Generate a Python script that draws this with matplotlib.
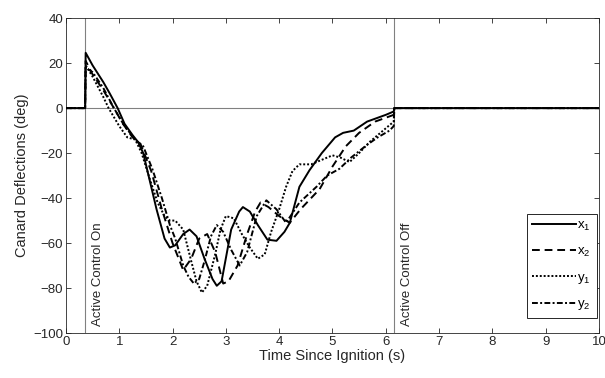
import matplotlib.pyplot as plt

plt.rcParams['font.family'] = ['Liberation Sans', 'DejaVu Sans']

# time (s) and canard deflections (deg)
t_x1 = [0, 0.36, 0.37, 0.5, 0.7, 0.82, 0.97, 1.1, 1.25, 1.35, 1.45, 1.55, 1.7, 1.85, 1.95, 2.05,
        2.2, 2.32, 2.45, 2.6, 2.75, 2.83, 2.92, 3.1, 3.25, 3.32, 3.45, 3.6, 3.78, 3.95, 4.1, 4.2,
        4.38, 4.57, 4.8, 5.05, 5.2, 5.4, 5.65, 6.0, 6.15, 6.16, 10]
x1 = [0, 0, 24.6, 19, 11.6, 6.6, 0, -7, -12, -15, -20, -30, -45, -58, -62, -61,
      -56, -54, -57, -67, -76, -79, -77, -54, -46, -44, -46, -52, -58.5, -59, -55, -51,
      -35, -27.6, -20, -13, -11, -10, -6, -3, -1.5, 0, 0]

t_x2 = [0, 0.36, 0.37, 0.5, 0.7, 0.9, 1.07, 1.25, 1.4, 1.6, 1.8, 2.0, 2.1, 2.2, 2.35, 2.5,
        2.65, 2.8, 2.95, 3.05, 3.22, 3.4, 3.55, 3.65, 3.8, 4.0, 4.2, 4.4, 4.6, 4.76, 5.0,
        5.25, 5.5, 5.8, 6.15, 6.16, 10]
x2 = [0, 0, 21, 15, 8, 0, -7, -13, -16, -28, -45, -60, -66, -72, -67, -58,
      -56, -64, -78, -77, -70, -56, -46, -42, -44, -48, -51, -45, -40, -36, -26,
      -17, -11, -6, -3, 0, 0]

t_y1 = [0, 0.36, 0.37, 0.5, 0.7, 0.8, 1.0, 1.15, 1.3, 1.42, 1.58, 1.72, 1.85, 1.95, 2.05, 2.2,
        2.35, 2.45, 2.55, 2.65, 2.8, 2.9, 3.0, 3.15, 3.3, 3.45, 3.6, 3.73, 3.85, 4.0, 4.13,
        4.25, 4.38, 4.6, 4.8, 5.0, 5.15, 5.32, 5.5, 5.7, 5.9, 6.15, 6.16, 10]
y1 = [0, 0, 19, 14, 5, 0, -8, -13, -14, -20, -32, -42, -48, -50, -50, -54,
      -68, -77, -82, -79, -65, -54, -48, -49, -56, -62, -67, -65, -55, -45, -35,
      -28, -25, -25, -23, -21, -22, -24, -20, -15, -11, -6, 0, 0]

t_y2 = [0, 0.36, 0.37, 0.5, 0.7, 0.9, 1.1, 1.3, 1.45, 1.62, 1.8, 1.95, 2.05, 2.2, 2.3, 2.4,
        2.5, 2.6, 2.72, 2.83, 2.95, 3.1, 3.26, 3.4, 3.58, 3.76, 3.95, 4.13, 4.38, 4.7, 4.9,
        5.13, 5.35, 5.64, 5.85, 6.07, 6.15, 6.16, 10]
y2 = [0, 0, 18, 16, 9, 0, -8, -14, -17, -27, -40, -52, -58, -70, -75, -78,
      -76, -68, -57, -52, -55, -63, -70, -64, -48, -41, -45, -51, -42, -35, -30,
      -27, -22, -16.5, -13, -10, -8, 0, 0]

series = [(t_x1, x1, '-', '$\\mathregular{x_1}$'),
          (t_x2, x2, (0, (4, 2.5)), '$\\mathregular{x_2}$'),
          (t_y1, y1, (0, (1, 1)), '$\\mathregular{y_1}$'),
          (t_y2, y2, (0, (3, 1.2, 1, 1.2)), '$\\mathregular{y_2}$')]

t_on = 0.36
t_off = 6.15

fig = plt.figure(figsize=(6.05, 3.78), dpi=100)
ax = fig.add_axes([0.109, 0.119, 0.881, 0.833])

gray = '#262626'
ax.axhline(0, color='#808080', lw=0.8, zorder=1)
ax.axvline(t_on, color='#808080', lw=0.8, zorder=1)
ax.axvline(t_off, color='#808080', lw=0.8, zorder=1)

for t, v, ls, lab in series:
    ax.plot(t, v, color='black', linestyle=ls, lw=1.4, label=lab, zorder=3)

ax.text(0.6, -97, 'Active Control On', rotation=90, ha='center', va='bottom',
        fontsize=9.5, color=gray)
ax.text(6.4, -97, 'Active Control Off', rotation=90, ha='center', va='bottom',
        fontsize=9.5, color=gray)

ax.set_xlim(0, 10)
ax.set_ylim(-100, 40)
ax.set_xticks(range(0, 11))
ax.set_yticks(range(-100, 41, 20))
ax.tick_params(direction='in', top=True, right=True, length=3.5, width=0.6,
               labelsize=9.5, colors=gray, labelcolor=gray, pad=2)
for s in ax.spines.values():
    s.set_color(gray)
    s.set_linewidth(0.6)

ax.set_xlabel('Time Since Ignition (s)', fontsize=10.5, color=gray, labelpad=1)
ax.set_ylabel('Canard Deflections (deg)', fontsize=10.5, color=gray, labelpad=3)

leg = ax.legend(loc='lower right', fontsize=9.5, handlelength=3.3, handletextpad=0.1,
                borderpad=0.45, labelspacing=0.95, fancybox=False, framealpha=1,
                borderaxespad=0.0, bbox_to_anchor=(0.996, 0.047))
leg.get_frame().set_edgecolor(gray)
leg.get_frame().set_linewidth(0.7)

fig.savefig('out.png', dpi=100)
